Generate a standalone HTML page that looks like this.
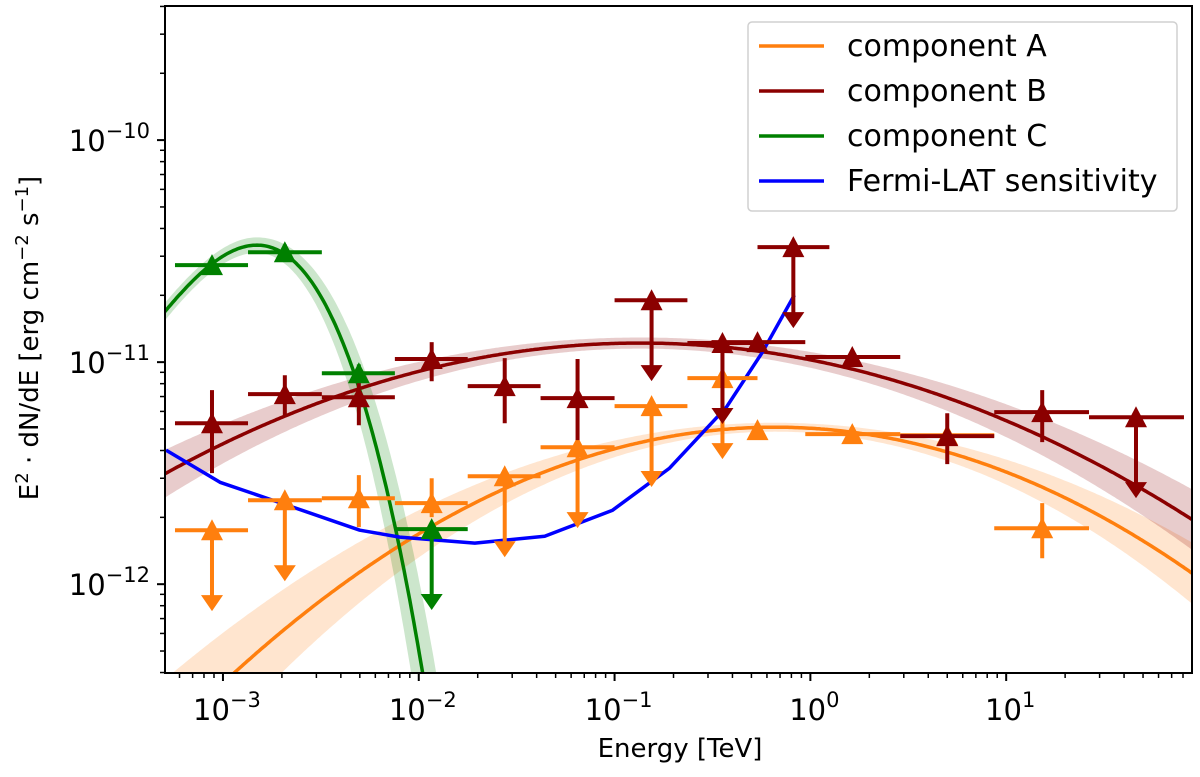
<!DOCTYPE html>
<html><head><meta charset="utf-8"><style>
html,body{margin:0;padding:0;background:#fff;width:1200px;height:777px;overflow:hidden;}
svg{display:block;font-family:"DejaVu Sans","Liberation Sans",sans-serif;}
</style></head><body>
<svg id="chart" width="1200" height="777" viewBox="0 0 1200 777">
<defs><clipPath id="clip"><rect x="165" y="6" width="1027" height="667"/></clipPath></defs>
<rect x="0" y="0" width="1200" height="777" fill="#fff"/>
<g id="bands" clip-path="url(#clip)"></g>
<g id="curves" clip-path="url(#clip)"></g>
<g id="points" clip-path="url(#clip)"></g>
<g id="axes"></g>
<g id="legend"></g>
</svg>
<script>
// log10 energy (TeV) of each bin centre, bin edges; log10 flux values (erg cm^-2 s^-1)
const cLx  = [-3.056,-2.684,-2.306,-1.934];
const cLo  = [-3.245,-2.872,-2.495,-2.122];
const cHi  = [-2.872,-2.495,-2.122,-1.750];
const cY   = [-10.563,-10.505,-11.050,-11.752];
const cYlo = [-10.60,-10.54,-11.09,null];
const cYhi = [-10.53,-10.47,-11.01,null];
const cUL  = [0,0,0,1];

const bLx  = [-3.056,-2.684,-2.306,-1.934,-1.561,-1.189,-0.811,-0.449,-0.270,-0.087,0.214,0.699,1.184,1.663];
const bLo  = [-3.245,-2.872,-2.495,-2.122,-1.750,-1.378,-1.000,-0.628,-0.505,-0.270,-0.026,0.459,0.939,1.423];
const bHi  = [-2.872,-2.495,-2.122,-1.750,-1.378,-1.000,-0.628,-0.270,-0.026,0.097,0.459,0.939,1.423,1.908];
const bY   = [-11.275,-11.144,-11.158,-10.986,-11.108,-11.162,-10.721,-10.914,-10.910,-10.482,-10.977,-11.333,-11.225,-11.248];
const bYlo = [-11.500,-11.239,-11.284,-11.086,-11.275,-11.351,null,null,-10.94,null,-11.00,-11.459,-11.360,null];
const bYhi = [-11.126,-11.059,-11.081,-10.910,-10.982,-10.986,null,null,-10.88,null,-10.95,-11.230,-11.126,null];
const bUL  = [0,0,0,0,0,0,1,1,0,1,0,0,0,1];

const aLx  = [-3.056,-2.684,-2.306,-1.934,-1.561,-1.189,-0.811,-0.449,-0.270,0.214,0.699,1.184];
const aLo  = [-3.245,-2.872,-2.495,-2.122,-1.750,-1.378,-1.000,-0.628,-0.290,-0.026,0.459,0.939];
const aHi  = [-2.872,-2.495,-2.122,-1.750,-1.378,-1.000,-0.628,-0.270,-0.250,0.459,0.939,1.423];
const aY   = [-11.757,-11.622,-11.613,-11.635,-11.514,-11.383,-11.198,-11.072,-11.306,-11.324,-11.329,-11.748];
const aYlo = [null,null,-11.743,-11.698,null,null,null,null,-11.33,-11.35,-11.36,-11.883];
const aYhi = [null,null,-11.509,-11.523,null,null,null,null,-11.28,-11.30,-11.30,-11.635];
const aUL  = [1,1,0,0,1,1,1,1,0,0,0,0];

// model parameters: [peak log flux, peak log energy, curvature, cubic term]
const modelA = [-11.293,-0.18,0.145,0];
const modelB = [-10.914,-0.87,0.100,0];
const modelC = [-10.473,-2.827,1.832,1.010];

// Fermi-LAT sensitivity curve (log E, log flux)
const sensLx = [-3.291,-3.015,-2.673,-2.301,-2.097,-1.714,-1.357,-1.010,-0.719,-0.429,-0.245,-0.082];
const sensY  = [-11.396,-11.541,-11.644,-11.757,-11.788,-11.815,-11.784,-11.667,-11.477,-11.203,-10.955,-10.698];

const xTicks = [-3,-2,-1,0,1];
const yTicks = [-12,-11,-10];
const xLabels = ["10","10","10","10","10"];

const X0=165,X1=1192,Y0=6,Y1=673;
const LXMIN=-3.296,LXMAX=1.949,LYMIN=-12.40,LYMAX=-9.396;
function sx(l){return X0+(l-LXMIN)/(LXMAX-LXMIN)*(X1-X0);}
function sy(l){return Y1-(l-LYMIN)/(LYMAX-LYMIN)*(Y1-Y0);}
const NS="http://www.w3.org/2000/svg";
function mk(tag,parent,attrs){const e=document.createElementNS(NS,tag);for(const k in attrs)e.setAttribute(k,attrs[k]);parent.appendChild(e);return e;}

function model(p,lx){const t=lx-p[1];return p[0]-p[2]*t*t-p[3]*t*t*t;}
const bands=document.getElementById('bands'),curves=document.getElementById('curves'),pts=document.getElementById('points'),axes=document.getElementById('axes');

function drawModel(p,color,halfw,name){
  const up=[],dn=[],mid=[];
  for(let lx=LXMIN-0.05;lx<=LXMAX+0.05;lx+=0.01){
    const y=model(p,lx);if(y<LYMIN-2)break;
    const h=halfw(lx-p[1]);
    mid.push(sx(lx).toFixed(1)+","+sy(y).toFixed(1));
    up.push(sx(lx).toFixed(1)+","+sy(y+h).toFixed(1));
    dn.unshift(sx(lx).toFixed(1)+","+sy(y-h).toFixed(1));
  }
  const b=mk('polygon',bands,{points:up.concat(dn).join(' '),fill:color,'fill-opacity':0.2,stroke:'none'});
  
  
  const l=mk('polyline',curves,{points:mid.join(' '),fill:'none',stroke:color,'stroke-width':3.5});
  
  
}
drawModel(modelA,'#ff7f0e',t=>0.02+0.026*t*t,'component-a');
drawModel(modelB,'#8b0000',t=>0.025+0.014*t*t,'component-b');
drawModel(modelC,'#008000',t=>0.035+(t>0?0.42*t*t:0.02*t*t),'component-c');

const sp=sensLx.map((v,i)=>sx(v).toFixed(1)+","+sy(sensY[i]).toFixed(1)).join(' ');
const sl=mk('polyline',curves,{points:sp,fill:'none',stroke:'#0000ff','stroke-width':3.5,'stroke-linejoin':'round'});



function drawPoints(lx,lo,hi,y,ylo,yhi,ul,color,name){
  for(let i=0;i<lx.length;i++){
    const g=mk('g',pts,{});
    
    
    const cx=sx(lx[i]),cy=sy(y[i]);
    mk('line',g,{x1:sx(lo[i]),x2:sx(hi[i]),y1:cy,y2:cy,stroke:color,'stroke-width':4});
    if(ul[i]){
      const ey=sy(y[i]-0.36);
      mk('line',g,{x1:cx,x2:cx,y1:cy,y2:ey-12,stroke:color,'stroke-width':4});
      mk('polygon',g,{points:`${cx-11},${ey-15} ${cx+11},${ey-15} ${cx},${ey+1}`,fill:color});
    } else if(ylo[i]!==null){
      mk('line',g,{x1:cx,x2:cx,y1:sy(yhi[i]),y2:sy(ylo[i]),stroke:color,'stroke-width':4});
    }
    mk('polygon',g,{points:`${cx-11},${cy+10} ${cx+11},${cy+10} ${cx},${cy-11}`,fill:color});
  }
}
drawPoints(aLx,aLo,aHi,aY,aYlo,aYhi,aUL,'#ff7f0e','component-a');
drawPoints(bLx,bLo,bHi,bY,bYlo,bYhi,bUL,'#8b0000','component-b');
drawPoints(cLx,cLo,cHi,cY,cYlo,cYhi,cUL,'#008000','component-c');

const fr=mk('rect',axes,{x:X0,y:Y0,width:X1-X0,height:Y1-Y0,fill:'none',stroke:'#000','stroke-width':2});


for(let d=-4;d<=2;d++){for(let m=1;m<10;m++){const l=d+Math.log10(m);if(l<LXMIN||l>LXMAX)continue;const x=sx(l);
  mk('line',axes,{x1:x,x2:x,y1:Y1,y2:Y1+(m===1?8:5),stroke:'#000','stroke-width':m===1?2:1.5});}}
xTicks.forEach((t,i)=>{const tx=mk('text',axes,{x:sx(t)+4,y:720,'font-size':29,'text-anchor':'middle'});
  
  
  tx.innerHTML=xLabels[i]+'<tspan dy="-13" font-size="21">'+(t<0?'\u2212'+(-t):t)+'</tspan>';});
for(let d=-13;d<=-9;d++){for(let m=1;m<10;m++){const l=d+Math.log10(m);if(l<LYMIN||l>LYMAX)continue;const y=sy(l);
  mk('line',axes,{x1:X0,x2:X0-(m===1?8:5),y1:y,y2:y,stroke:'#000','stroke-width':m===1?2:1.5});}}
yTicks.forEach(t=>{const tx=mk('text',axes,{x:150,y:sy(t)+11,'font-size':29,'text-anchor':'end'});
  
  
  tx.innerHTML='10<tspan dy="-13" font-size="21">\u2212'+(-t)+'</tspan>';});
const xl=mk('text',axes,{x:680,y:757,'font-size':26,'text-anchor':'middle'});


xl.textContent='Energy [TeV]';
const yl=mk('text',axes,{x:0,y:0,'font-size':26,'text-anchor':'middle',transform:'translate(38,338) rotate(-90)'});


yl.innerHTML='E<tspan dy="-10" font-size="18">2</tspan><tspan dy="10"> \u00b7 dN/dE [erg cm</tspan><tspan dy="-10" font-size="18">\u22122</tspan><tspan dy="10"> s</tspan><tspan dy="-10" font-size="18">\u22121</tspan><tspan dy="10">]</tspan>';

const lg=document.getElementById('legend');
mk('rect',lg,{x:748,y:22,width:429,height:189,rx:4,fill:'#fff','fill-opacity':0.8,stroke:'#d0d0d0','stroke-width':1.5});
const legNames=['component A','component B','component C','Fermi-LAT sensitivity'];
const legColors=['#ff7f0e','#8b0000','#008000','#0000ff'];
legNames.forEach((n,i)=>{const y=46+i*45;
  const g=mk('g',lg,{});
  
  
  mk('line',g,{x1:759,x2:824,y1:y,y2:y,stroke:legColors[i],'stroke-width':3.5});
  const t=mk('text',g,{x:847,y:y+10,'font-size':30});t.textContent=n;});
</script>
</body></html>
